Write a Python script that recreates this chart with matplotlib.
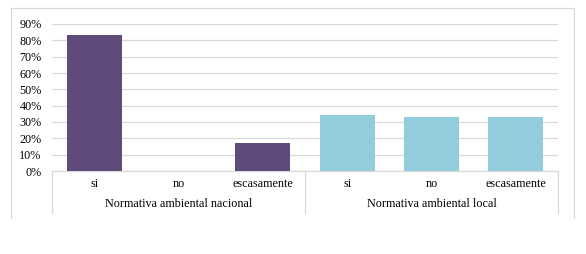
import matplotlib
matplotlib.use("Agg")
import matplotlib.pyplot as plt
from matplotlib.lines import Line2D

groups = ["Normativa ambiental nacional", "Normativa ambiental local"]
subcats = ["si", "no", "escasamente"]
nacional = [83, 0, 17]
local = [34, 33, 33]
yticks = [0, 10, 20, 30, 40, 50, 60, 70, 80, 90]

plt.rcParams['font.family'] = ['Liberation Serif', 'DejaVu Serif']
FS = 8.7
W, H = 586, 254
fig = plt.figure(figsize=(W/100, H/100), dpi=100)
x0, x1, ybot, ytop = 52, 558, 171, 24
ax = fig.add_axes([x0/W, (H-ybot)/H, (x1-x0)/W, (ybot-ytop)/H])

grid_c = "#D9D9D9"
colors = ["#604A7B", "#93CDDD"]
values = [nacional, local]
for g, vals in enumerate(values):
    xs = [g*3 + i for i in range(len(vals))]
    ax.bar(xs, vals, width=0.65, color=colors[g], zorder=3)

ax.set_xlim(-0.5, 5.5)
ax.set_ylim(0, 90)
ax.set_yticks(yticks)
ax.set_yticklabels([f"{v}%" for v in yticks], fontsize=FS)
ax.tick_params(axis='y', length=0, pad=7.5)
ax.set_xticks([])
ax.grid(axis='y', color=grid_c, linewidth=0.9, zorder=0)
for s in ['left', 'right', 'top']:
    ax.spines[s].set_visible(False)
ax.spines['bottom'].set_color(grid_c)
ax.spines['bottom'].set_linewidth(0.9)

axh = ybot - ytop
tr = ax.get_xaxis_transform()
y_sub = -(184 - ybot) / axh
y_grp = -(204 - ybot) / axh
y_end = -(213 - ybot) / axh
for g in range(len(groups)):
    for i, lab in enumerate(subcats):
        ax.text(g*3 + i, y_sub, lab, transform=tr, ha='center', va='center', fontsize=FS)
    ax.text(g*3 + 1, y_grp, groups[g], transform=tr, ha='center', va='center', fontsize=FS)
for xv in [-0.5, 2.5, 5.5]:
    ax.add_line(Line2D([xv, xv], [0, y_end], transform=tr, color=grid_c, linewidth=0.9, clip_on=False))

# outer frame
fl, fr, ft, fb = 11, 574, 8, 218
fig.add_artist(Line2D([fl/W, fl/W, fr/W, fr/W], [(H-fb)/H, (H-ft)/H, (H-ft)/H, (H-fb)/H],
                      transform=fig.transFigure, color=grid_c, linewidth=0.9))

fig.savefig("out.png", dpi=100)
